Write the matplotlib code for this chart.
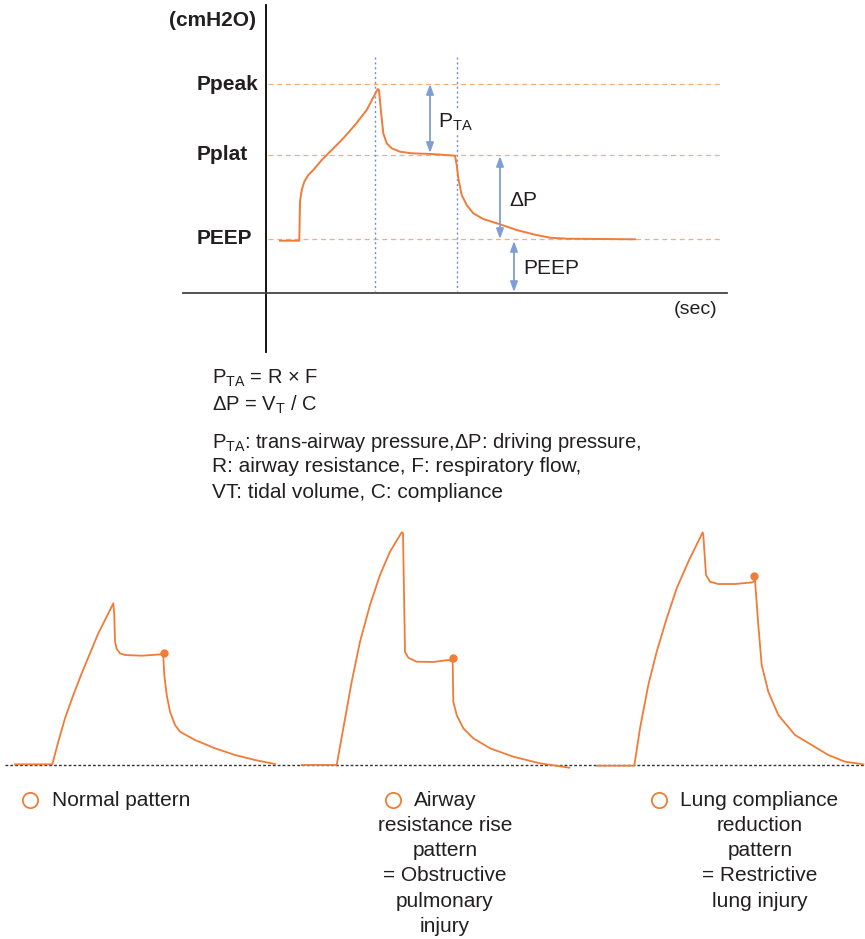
import matplotlib
matplotlib.use('Agg')
import matplotlib.pyplot as plt

plt.rcParams['font.family'] = ['Liberation Sans', 'DejaVu Sans']
plt.rcParams['mathtext.fontset'] = 'custom'
plt.rcParams['mathtext.rm'] = 'Liberation Sans'
plt.rcParams['mathtext.it'] = 'Liberation Sans:italic'

# ---- data (pixel space, y down) ----
# top diagram: pressure trace
main_x = [280, 299.3, 300, 301.7, 304.3, 308.3, 313.3, 321.7, 331.7, 343.3, 355, 366.7, 377.7,
          379, 381, 383.3, 386.7, 391.7, 400, 411.7, 431.7, 455,
          456.7, 458.3, 461.7, 466.7, 473.3, 483.3, 500, 516.7, 533.3, 550, 566.7, 600, 635]
main_y = [240.7, 240.7, 201.7, 190, 181.7, 175, 170, 160, 150, 138.3, 125, 110, 89,
          90, 111.7, 133.3, 143.3, 148.3, 151.7, 153.3, 154, 155.7,
          165, 178.3, 195, 205, 213.3, 219, 224.3, 230, 234.3, 237.7, 238.7, 239, 239.3]
levels_y = {'Ppeak': 84, 'Pplat': 155, 'PEEP': 239}
marker_x = [375, 457]

# bottom patterns
normal_x = [15, 52.3, 58.3, 65, 73.3, 81.7, 90, 98.3, 106.7, 113.3,
            114.3, 115, 116.7, 120, 125, 141.7, 161.7, 163.3,
            164.3, 166.7, 170, 175, 180, 195, 215, 235, 255, 275]
normal_y = [764.3, 764.3, 741.7, 718.3, 695, 673.3, 653.3, 633.3, 616.7, 603.3,
            615, 641.7, 649, 653.3, 655, 655.7, 654.3, 656.7,
            675, 695, 711.7, 725, 731.7, 740, 748.3, 755, 760, 764]
normal_dot = (164.3, 653.3)

airway_x = [301.7, 336.7, 343.3, 351.7, 360, 370, 380, 390, 401.7,
            403, 405, 408.3, 416.7, 433.3, 448.3, 452.7,
            453.3, 456.7, 463.3, 473.3, 490, 513.3, 540, 569.3]
airway_y = [765, 765, 728.3, 681.7, 641.7, 605, 575, 551.7, 532.3,
            533.3, 651.7, 657.7, 661.7, 662, 660, 661.7,
            701.7, 715, 728.3, 738.3, 748.3, 756.7, 763.3, 767.7]
airway_dot = (453.3, 658.3)

lung_x = [596.7, 634.3, 640, 648.3, 656.7, 666.7, 676.7, 688.3, 702.7,
          703.3, 706, 710, 718.3, 735, 752.7, 755,
          758.3, 761.7, 768.3, 778.3, 795, 811.7, 828.3, 845, 863.3]
lung_y = [765.7, 765.7, 728.3, 685, 651.7, 618.3, 588.3, 561.7, 532.3,
          535, 575, 581.7, 584, 584, 582.3, 580,
          625, 665, 691.7, 715, 735, 745, 755, 761.7, 764.3]
lung_dot = (754, 575.7)

pattern_labels = [
    ['Normal pattern'],
    ['Airway', 'resistance rise', 'pattern', '= Obstructive', 'pulmonary', 'injury'],
    ['Lung compliance', 'reduction', 'pattern', '= Restrictive', 'lung injury'],
]

ORANGE = '#f07c38'
ORANGE_LIGHT = '#f5ae80'
BLUE = '#7f9dd6'
TXT = '#231f20'

fig = plt.figure(figsize=(8.65, 9.39), dpi=100)
ax = fig.add_axes([0, 0, 1, 1])
ax.set_xlim(0, 865)
ax.set_ylim(939, 0)
ax.axis('off')

# axes of the top diagram
ax.plot([266, 266], [5, 352], color='black', lw=1.3)
ax.plot([183, 727], [293, 293], color='#444444', lw=1.3)

for name, y in levels_y.items():
    ax.plot([268, 720], [y, y], color=ORANGE_LIGHT, lw=0.9, ls=(0, (4, 3)))
    ax.text(197, y, name, fontsize=15, fontweight='bold', color=TXT,
            va='center', ha='left')
ax.text(212, 20, '(cmH2O)', fontsize=15, fontweight='bold', color=TXT,
        va='center', ha='center')

for x in marker_x:
    ax.plot([x, x], [57, 291], color='#6f8fd2', lw=1, ls=(0, (1.5, 2)))

ax.plot(main_x, main_y, color=ORANGE, lw=1.4)

arrow = dict(arrowstyle='<|-|>,head_length=0.6,head_width=0.22', color=BLUE,
             lw=1.3, shrinkA=0, shrinkB=0)
ax.annotate('', xy=(430, 84), xytext=(430, 153), arrowprops=arrow)
ax.annotate('', xy=(500, 156), xytext=(500, 239), arrowprops=arrow)
ax.annotate('', xy=(514, 241), xytext=(514, 292), arrowprops=arrow)
ax.text(438, 122, r'P$_{\mathrm{TA}}$', fontsize=15, color=TXT, va='center',
        ha='left', bbox=dict(facecolor='white', edgecolor='none', pad=1))
ax.text(509, 200, 'ΔP', fontsize=15, color=TXT, va='center', ha='left')
ax.text(523, 268, 'PEEP', fontsize=15, color=TXT, va='center', ha='left')
ax.text(717, 310, '(sec)', fontsize=14, color=TXT, va='center', ha='right')

# formulas
ax.text(212, 378, r'P$_{\mathrm{TA}}$ = R $\times$ F', fontsize=14.5, color=TXT, va='center')
ax.text(212, 405, r'ΔP = V$_{\mathrm{T}}$ / C', fontsize=14.5, color=TXT, va='center')
ax.text(212, 442, r'P$_{\mathrm{TA}}$: trans-airway pressure,ΔP: driving pressure,',
        fontsize=14.5, color=TXT, va='center')
ax.text(212, 467, 'R: airway resistance, F: respiratory flow,', fontsize=15,
        color=TXT, va='center')
ax.text(212, 492, 'VT: tidal volume, C: compliance', fontsize=15, color=TXT,
        va='center')

# bottom patterns
ax.plot([5, 865], [765, 765], color='#333333', lw=1, ls=(0, (2, 1.5)))
for xs, ys, dot in [(normal_x, normal_y, normal_dot),
                    (airway_x, airway_y, airway_dot),
                    (lung_x, lung_y, lung_dot)]:
    ax.plot(xs, ys, color=ORANGE, lw=1.3)
    ax.plot(*dot, 'o', color=ORANGE, ms=5)

circle_pos = [(30, 800, 52, None), (393, 800, 414, 445), (659, 800, 680, 760)]
for (cx, cy, tx, center), lines in zip(circle_pos, pattern_labels):
    ax.plot(cx, cy, 'o', mfc='none', mec=ORANGE, ms=11, mew=1.3)
    ax.text(tx, cy, lines[0], fontsize=15, color=TXT, va='center', ha='left')
    for i, line in enumerate(lines[1:]):
        ax.text(center, cy + 25.3 * (i + 1), line, fontsize=15, color=TXT,
                va='center', ha='center')

fig.savefig('out.png', dpi=100)
